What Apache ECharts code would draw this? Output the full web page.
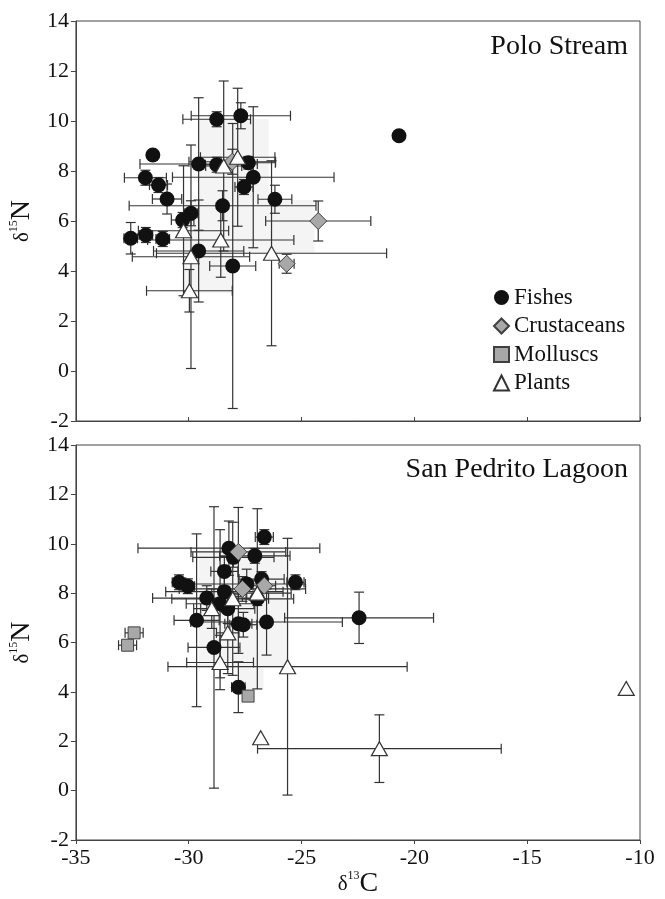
<!DOCTYPE html>
<html>
<head>
<meta charset="utf-8">
<script src="https://cdn.jsdelivr.net/npm/echarts@6/dist/echarts.min.js"></script>
<style>html,body{margin:0;padding:0;background:#fff;}#c{width:665px;height:899px;}</style>
</head>
<body>
<div id="c"></div>
<script>
// ---- data: [d13C, d15N, xErr, yErr] ----
const xTicks = [-35, -30, -25, -20, -15, -10];
const yTicks = [-2, 0, 2, 4, 6, 8, 10, 12, 14];
const panelTitles = ['Polo Stream', 'San Pedrito Lagoon'];
const groupNames = ['Fishes', 'Crustaceans', 'Molluscs', 'Plants'];

const poloFishes = [
  [-28.76,10.07,1.5,0.3],[-27.69,10.21,2.2,0.52],[-31.59,8.64,0,0],[-29.56,8.28,2.6,2.65],
  [-28.76,8.25,0.5,0.3],[-27.36,8.33,1.2,0.25],[-27.14,7.75,3.58,2.82],[-27.55,7.36,0.4,0.3],
  [-31.92,7.73,0.93,0.3],[-31.34,7.44,0.4,0.3],[-30.96,6.88,0.65,0.6],[-28.5,6.61,4.14,0.6],
  [-26.18,6.87,0.75,0.56],[-29.9,6.31,0.3,0.5],[-30.27,6.04,0.5,0.3],[-32.57,5.31,0.3,0.63],
  [-31.9,5.44,0.3,0.3],[-31.15,5.28,0.3,0.3],[-29.56,4.8,2.0,2.04],[-28.05,4.2,1.02,5.7],
  [-20.68,9.41,0,0]
];
const poloCrustaceans = [[-28.07,8.37,1.92,0.5],[-24.26,6.0,2.33,0.8],[-25.66,4.29,0.33,0.38]];
const poloMolluscs = [];
const poloPlants = [
  [-27.83,8.55,1.65,2.76],[-28.45,8.2,0.8,3.4],[-28.58,5.24,3.24,1.49],[-30.23,5.61,2.0,2.6],
  [-29.9,4.57,2.6,4.47],[-26.33,4.71,5.1,3.7],[-29.97,3.21,1.9,0.85]
];
// shaded ranges: [x1, x2, y1, y2]
const poloBoxes = [[-29.51,-26.46,4.84,10.08],[-30.22,-28.0,3.12,6.84],[-28.0,-24.42,4.72,6.84]];

const pedritoFishes = [
  [-26.65,10.27,0.4,0.3],[-28.22,9.82,4.03,1.1],[-27.07,9.51,1.56,0.3],[-28.02,9.45,1.8,0.4],
  [-28.42,8.88,0.6,0.6],[-30.43,8.44,0.3,0.3],[-30.04,8.28,0.3,0.3],[-25.27,8.44,0.38,0.3],
  [-26.77,8.57,1.0,0.3],[-27.43,8.37,2.6,0.6],[-29.2,7.8,2.4,0.5],[-28.42,8.06,2.6,0.8],
  [-28.61,7.57,1.5,3.0],[-28.27,7.37,1.2,0.6],[-26.96,7.77,0.5,3.65],[-29.65,6.9,1.0,3.5],
  [-27.8,6.76,0.6,1.2],[-27.58,6.72,0.6,0.5],[-26.55,6.83,3.36,1.34],[-28.88,5.8,1.15,5.7],
  [-27.8,4.19,0.3,1.03],[-22.45,7.0,3.3,1.04]
];
const pedritoCrustaceans = [[-27.8,9.67,2.1,1.8],[-27.62,8.17,2.8,0.5],[-26.65,8.3,0.5,0.3]];
const pedritoMolluscs = [[-32.42,6.39,0.4,0.2],[-32.71,5.89,0.4,0.2],[-27.37,3.83,0,0]];
const pedritoPlants = [
  [-26.96,8.0,1.5,0.5],[-28.05,7.77,2.7,3.1],[-28.98,7.37,0.8,0.8],[-28.27,6.39,0.5,1.65],
  [-28.61,5.19,1.48,1.1],[-25.62,5.02,5.3,5.2],[-26.81,2.14,0,0],[-21.55,1.7,5.4,1.37],
  [-10.61,4.14,0,0]
];
const pedritoBoxes = [[-29.56,-25.62,4.95,9.78],[-27.79,-26.68,4.07,7.77]];

// ---- chart ----
const FONT = 'Liberation Serif';
const chart = echarts.init(document.getElementById('c'), null, {renderer: 'canvas'});

function renderErr(params, api) {
  const x = api.value(0), y = api.value(1), ex = api.value(2), ey = api.value(3);
  const h = 5;
  const st = {stroke: '#333', lineWidth: 1.2};
  const ch = [];
  if (ex > 0) {
    const l = api.coord([x - ex, y]), r = api.coord([x + ex, y]);
    ch.push({type: 'line', shape: {x1: l[0], y1: l[1], x2: r[0], y2: r[1]}, style: st});
    ch.push({type: 'line', shape: {x1: l[0], y1: l[1] - h, x2: l[0], y2: l[1] + h}, style: st});
    ch.push({type: 'line', shape: {x1: r[0], y1: r[1] - h, x2: r[0], y2: r[1] + h}, style: st});
  }
  if (ey > 0) {
    const t = api.coord([x, y + ey]), b = api.coord([x, y - ey]);
    ch.push({type: 'line', shape: {x1: t[0], y1: t[1], x2: b[0], y2: b[1]}, style: st});
    ch.push({type: 'line', shape: {x1: t[0] - h, y1: t[1], x2: t[0] + h, y2: t[1]}, style: st});
    ch.push({type: 'line', shape: {x1: b[0] - h, y1: b[1], x2: b[0] + h, y2: b[1]}, style: st});
  }
  return {type: 'group', children: ch};
}
function renderBox(params, api) {
  const p1 = api.coord([api.value(0), api.value(3)]);
  const p2 = api.coord([api.value(1), api.value(2)]);
  return {type: 'rect', shape: {x: p1[0], y: p1[1], width: p2[0] - p1[0], height: p2[1] - p1[1]},
          style: {fill: '#f4f4f4'}};
}

const symbolDefs = {
  Fishes: {symbol: 'circle', symbolSize: 15, itemStyle: {color: '#111', borderColor: '#111', borderWidth: 0, opacity: 1}},
  Crustaceans: {symbol: 'diamond', symbolSize: 17, itemStyle: {color: '#a8a8a8', borderColor: '#404040', borderWidth: 1, opacity: 1}},
  Molluscs: {symbol: 'rect', symbolSize: 12, itemStyle: {color: '#a8a8a8', borderColor: '#404040', borderWidth: 1, opacity: 1}},
  Plants: {symbol: 'triangle', symbolSize: [16, 14], itemStyle: {color: '#fff', borderColor: '#333', borderWidth: 1.2, opacity: 1}}
};

const panels = [
  {groups: [poloFishes, poloCrustaceans, poloMolluscs, poloPlants], boxes: poloBoxes},
  {groups: [pedritoFishes, pedritoCrustaceans, pedritoMolluscs, pedritoPlants], boxes: pedritoBoxes}
];

const series = [];
panels.forEach((p, i) => {
  series.push({type: 'custom', xAxisIndex: i, yAxisIndex: i, renderItem: renderBox, data: p.boxes,
               encode: {x: [0, 1], y: [2, 3]}, z: 1, silent: true});
  series.push({type: 'custom', xAxisIndex: i, yAxisIndex: i, renderItem: renderErr,
               data: [].concat(...p.groups), encode: {x: 0, y: 1}, z: 2, silent: true});
  p.groups.forEach((g, k) => {
    const d = symbolDefs[groupNames[k]];
    series.push(Object.assign({type: 'scatter', name: groupNames[k], xAxisIndex: i, yAxisIndex: i,
      data: g.map(v => [v[0], v[1]]), z: 3}, d));
  });
});

const axisLineStyle = {color: '#444', width: 1};
const yName = '{d|δ}{s|15}{n|N}';
const xName = '{d|δ}{s|13}{n|C}';
const nameRich = {
  d: {fontSize: 21, fontFamily: FONT, color: '#111'},
  s: {fontSize: 12, fontFamily: FONT, color: '#111', verticalAlign: 'top', lineHeight: 28},
  n: {fontSize: 28, fontFamily: FONT, color: '#111', lineHeight: 28}
};

const option = {
  animation: false,
  backgroundColor: '#fff',
  title: [
    {text: panelTitles[0], right: 32, top: 28, textStyle: {fontFamily: FONT, fontSize: 28, fontWeight: 'normal', color: '#111'}},
    {text: panelTitles[1], right: 32, top: 451, textStyle: {fontFamily: FONT, fontSize: 28, fontWeight: 'normal', color: '#111'}}
  ],
  legend: {
    data: groupNames.map(n => ({name: n})),
    orient: 'vertical', left: 488, top: 281, itemWidth: 15, itemHeight: 15, itemGap: 5.5,
    textStyle: {fontFamily: FONT, fontSize: 23, color: '#111', lineHeight: 23},
    selectedMode: false
  },
  grid: [
    {left: 73, right: 25, top: 21, height: 400, show: true, borderColor: '#444', borderWidth: 1},
    {left: 73, right: 25, top: 445, height: 398, show: true, borderColor: '#444', borderWidth: 1}
  ],
  xAxis: [0, 1].map(i => ({
    type: 'value', gridIndex: i, min: xTicks[0], max: xTicks[xTicks.length - 1], interval: 5,
    axisLine: {show: true, onZero: false, lineStyle: axisLineStyle},
    axisTick: {show: true, inside: i === 0, length: 4, lineStyle: axisLineStyle},
    axisLabel: {show: i === 1, fontFamily: FONT, fontSize: 22, color: '#111', margin: 7},
    splitLine: {show: false},
    name: i === 1 ? xName : '', nameLocation: 'middle', nameGap: 30,
    nameTextStyle: {rich: nameRich}
  })),
  yAxis: [0, 1].map(i => ({
    type: 'value', gridIndex: i, min: yTicks[0], max: yTicks[yTicks.length - 1], interval: 2,
    axisLine: {show: true, onZero: false, lineStyle: axisLineStyle},
    axisTick: {show: true, inside: false, length: 5, lineStyle: axisLineStyle},
    axisLabel: {fontFamily: FONT, fontSize: 22, color: '#111', margin: 7},
    splitLine: {show: false},
    name: yName, nameLocation: 'middle', nameGap: 20, nameRotate: 90,
    nameTextStyle: {rich: nameRich}
  })),
  series: series
};
chart.setOption(option);
</script>
</body>
</html>
